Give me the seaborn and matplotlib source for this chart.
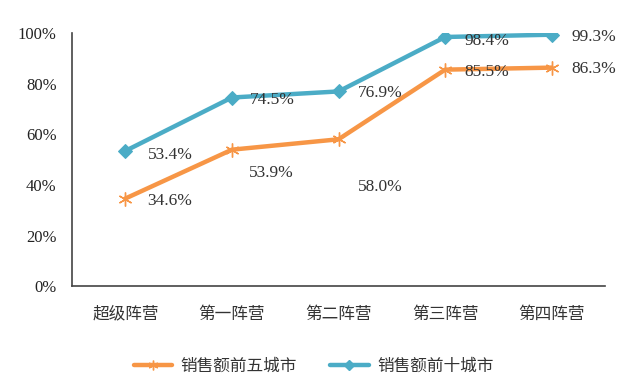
import matplotlib
matplotlib.use("Agg")
import matplotlib.pyplot as plt
import seaborn as sns
import pandas as pd
import numpy as np
from matplotlib.lines import Line2D

categories = ["超级阵营", "第一阵营", "第二阵营", "第三阵营", "第四阵营"]
top5 = [34.6, 53.9, 58.0, 85.5, 86.3]
top10 = [53.4, 74.5, 76.9, 98.4, 99.3]
series_names = ["销售额前五城市", "销售额前十城市"]
yticks = [0, 20, 40, 60, 80, 100]

sns.set_theme(style="white")
plt.rcParams['font.family'] = ['Liberation Serif', 'Noto Sans CJK SC', 'DejaVu Sans']

orange = "#F79646"
teal = "#4BACC6"

fig = plt.figure(figsize=(6.4, 3.92), dpi=100)
ax = fig.add_axes([0.1125, 0.270, 0.833, 0.646])

x = np.arange(len(categories))
df5 = pd.DataFrame({"x": x, "v": np.array(top5) / 100})
df10 = pd.DataFrame({"x": x, "v": np.array(top10) / 100})

sns.lineplot(data=df10, x="x", y="v", ax=ax, color=teal, lw=3.2, marker="D",
             markersize=7, markeredgecolor=teal, markerfacecolor=teal)
sns.lineplot(data=df5, x="x", y="v", ax=ax, color=orange, lw=3.2, marker=(6, 2, 0),
             markersize=10, markeredgecolor=orange, markeredgewidth=1.0)

ax.set_xlim(-0.5, 4.5)
ax.set_ylim(0, 1)
ax.set_yticks([t / 100 for t in yticks])
ax.set_yticklabels([f"{t}%" for t in yticks], fontsize=12, color="#222222")
ax.set_xticks(np.arange(-0.5, 5, 1))
ax.set_xticklabels([])
ax.set_xticks(x, minor=True)
ax.set_xticklabels(categories, minor=True, fontsize=12, color="#333333",
                   family=['Noto Sans CJK SC'])
ax.tick_params(axis="x", which="minor", length=0, pad=14)
ax.tick_params(axis="x", which="major", length=5, width=1.2, color="#444444", direction="out")
ax.tick_params(axis="y", length=5, width=1.2, color="#444444", direction="out", pad=6)
ax.set_xlabel("")
ax.set_ylabel("")
for s in ["top", "right"]:
    ax.spines[s].set_visible(False)
for s in ["left", "bottom"]:
    ax.spines[s].set_color("#444444")
    ax.spines[s].set_linewidth(1.2)

# data labels (offsets in points)
off10 = [(16, -3), (13, -2), (14, -1), (14, -3), (14, -2)]
off5 = [(16, -2), (12, -17), (14, -34), (14, -2), (14, -1)]
for i in range(len(categories)):
    ax.annotate(f"{top10[i]:.1f}%", (x[i], top10[i] / 100), xytext=off10[i],
                textcoords="offset points", fontsize=12.5, color="#333333", va="center", ha="left")
    ax.annotate(f"{top5[i]:.1f}%", (x[i], top5[i] / 100), xytext=off5[i],
                textcoords="offset points", fontsize=12.5, color="#333333", va="center", ha="left")

handles = [Line2D([], [], color=orange, lw=3.2, marker=(6, 2, 0), markersize=7, markeredgewidth=1),
           Line2D([], [], color=teal, lw=3.2, marker="D", markersize=5)]
fig.legend(handles, series_names, loc="center", bbox_to_anchor=(0.49, 0.066), ncol=2,
           frameon=False, prop={"family": "Noto Sans CJK SC", "size": 12},
           handlelength=2.3, columnspacing=2.0, handletextpad=0.5, labelcolor="#333333")

fig.savefig("out.png", dpi=100)
